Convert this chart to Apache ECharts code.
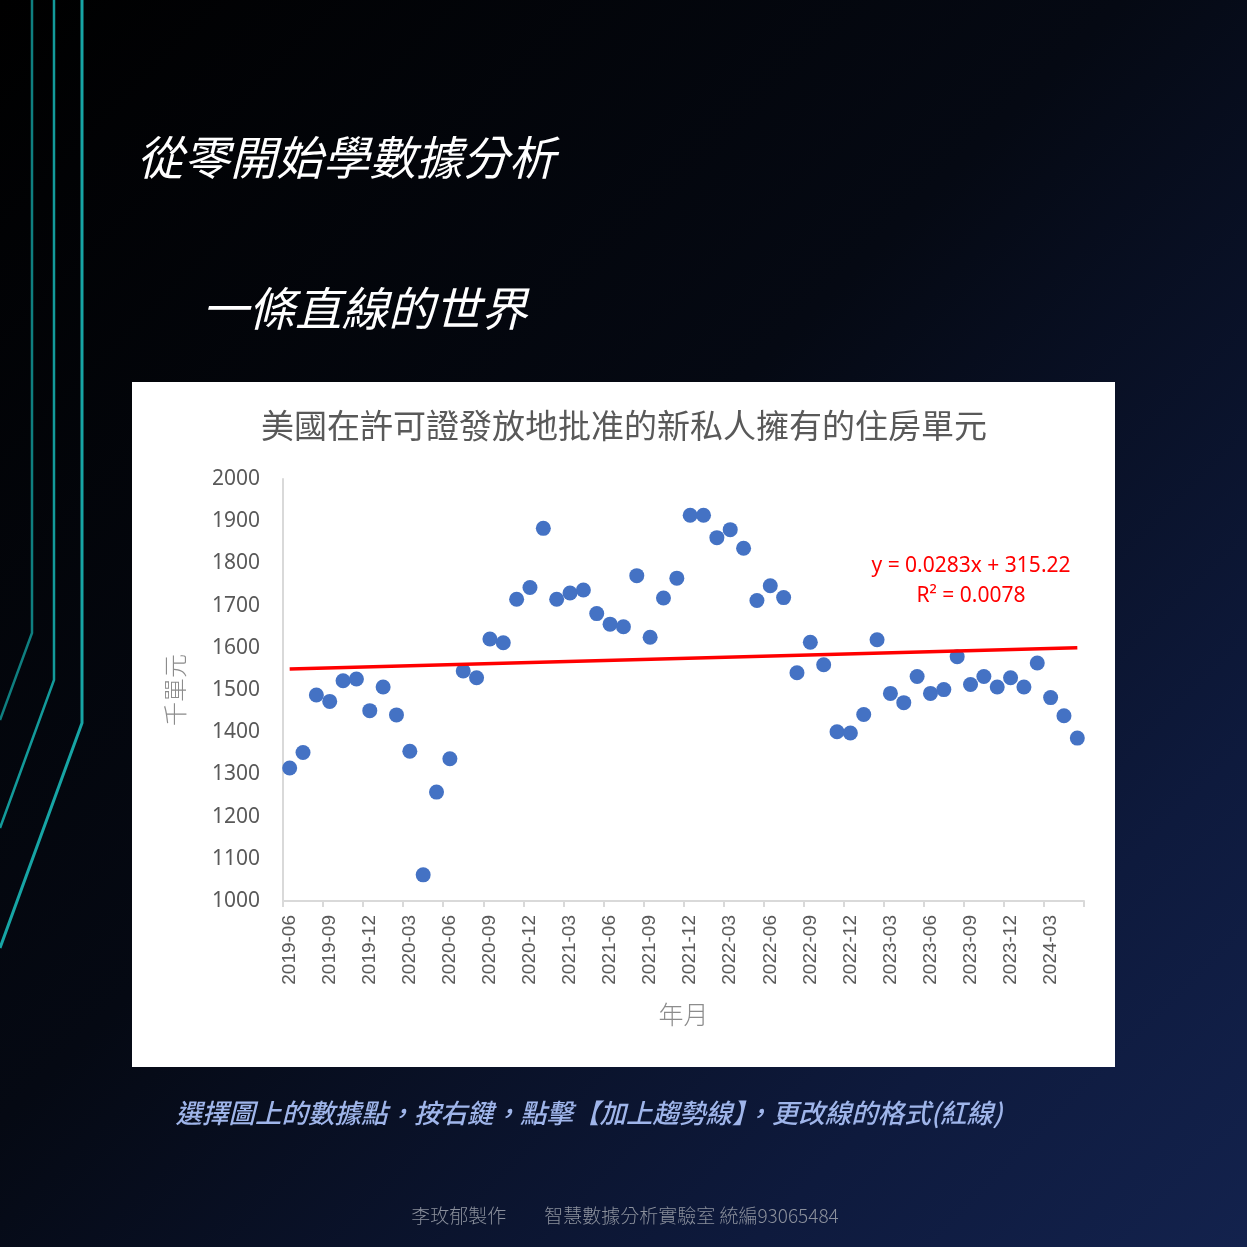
<!DOCTYPE html>
<html>
<head>
<meta charset="utf-8">
<script src="https://cdn.jsdelivr.net/npm/echarts@6/dist/echarts.min.js"></script>
<style>
html, body { margin:0; padding:0; width:1247px; height:1247px; overflow:hidden;
  background: linear-gradient(135deg, #000000 0%, #050913 45%, #0e1a3d 80%, #13224d 100%); }
#chart { width:1247px; height:1247px; }
</style>
</head>
<body>
<div id="chart"></div>
<script>
// ---- data ----
const months = [
  '2019-06','2019-07','2019-08','2019-09','2019-10','2019-11','2019-12',
  '2020-01','2020-02','2020-03','2020-04','2020-05','2020-06','2020-07','2020-08','2020-09','2020-10','2020-11','2020-12',
  '2021-01','2021-02','2021-03','2021-04','2021-05','2021-06','2021-07','2021-08','2021-09','2021-10','2021-11','2021-12',
  '2022-01','2022-02','2022-03','2022-04','2022-05','2022-06','2022-07','2022-08','2022-09','2022-10','2022-11','2022-12',
  '2023-01','2023-02','2023-03','2023-04','2023-05','2023-06','2023-07','2023-08','2023-09','2023-10','2023-11','2023-12',
  '2024-01','2024-02','2024-03','2024-04','2024-05'
];
const permits = [
  1315, 1352, 1488, 1473, 1522, 1526, 1451,
  1507, 1441, 1355, 1062, 1258, 1337, 1545, 1529, 1621, 1612, 1715, 1743,
  1883, 1715, 1730, 1737, 1681, 1656, 1650, 1771, 1625, 1718, 1765, 1914,
  1914, 1861, 1880, 1836, 1712, 1747, 1719, 1541, 1613, 1560, 1401, 1398,
  1442, 1619, 1492, 1470, 1532, 1492, 1501, 1579, 1513, 1532, 1507, 1529,
  1507, 1564, 1482, 1439, 1386
];
// Excel linear trendline (x = Excel date serial)
const trendSlope = 0.0283;
const trendIntercept = 315.22;
const equationLines = ['y = 0.0283x + 315.22', 'R² = 0.0078'];

const chartTitle = '美國在許可證發放地批准的新私人擁有的住房單元';
const slideTitle = '從零開始學數據分析';
const slideSubtitle = '一條直線的世界';
const noteText = '選擇圖上的數據點，按右鍵，點擊【加上趨勢線】，更改線的格式(紅線)';
const footerText = '李玫郁製作　　智慧數據分析實驗室 統編93065484';

// ---- helpers ----
function excelSerial(ym) {
  const [y, m] = ym.split('-').map(Number);
  return (Date.UTC(y, m - 1, 1) - Date.UTC(1899, 11, 30)) / 86400000;
}
const trendData = [months[0], months[months.length - 1]].map(
  m => [m, trendSlope * excelSerial(m) + trendIntercept]
);

const chart = echarts.init(document.getElementById('chart'), null, { renderer: 'canvas' });
const teal = '#139a9a';
const option = {
  backgroundColor: 'transparent',
  animation: false,
  grid: { left: 283, right: 163, top: 479, bottom: 346, containLabel: false },
  xAxis: {
    type: 'category',
    data: months,
    boundaryGap: true,
    axisLine: { show: true, lineStyle: { color: '#d9d9d9', width: 2 } },
    axisTick: { show: true, interval: 2, length: 6, lineStyle: { color: '#d9d9d9', width: 2 } },
    axisLabel: { interval: 2, rotate: 90, fontSize: 19, color: '#595959', margin: 14,
      fontFamily: 'Liberation Sans' },
    splitLine: { show: false },
    name: '年月', nameLocation: 'middle', nameGap: 101,
    nameTextStyle: { fontSize: 25, color: '#8c8c8c', fontFamily: 'Noto Sans CJK TC', fontWeight: 300 }
  },
  yAxis: {
    type: 'value', min: 1000, max: 2000, interval: 100,
    axisLine: { show: true, lineStyle: { color: '#d9d9d9', width: 2 } },
    axisTick: { show: false },
    splitLine: { show: false },
    axisLabel: { fontSize: 21, color: '#595959', margin: 23, fontFamily: 'Noto Sans',
      formatter: v => String(v) },
    name: '千單元', nameLocation: 'middle', nameGap: 96, nameRotate: 90,
    nameTextStyle: { fontSize: 24, color: '#8c8c8c', fontFamily: 'Noto Sans CJK TC', fontWeight: 300 }
  },
  series: [
    {
      type: 'scatter', data: permits, symbol: 'circle', symbolSize: 15,
      itemStyle: { color: '#4472c4', opacity: 1 }, z: 2
    },
    {
      type: 'line', data: trendData, symbol: 'none', z: 3,
      lineStyle: { color: '#ff0000', width: 3.5 }
    }
  ],
  graphic: [
    { type: 'rect', z: -10, shape: { x: 132, y: 382, width: 983, height: 685 },
      style: { fill: '#ffffff' } },
    { type: 'polyline', shape: { points: [[32, 0], [32, 633], [0, 720]] },
      style: { stroke: '#0f7f80', lineWidth: 2.5, fill: null } },
    { type: 'polyline', shape: { points: [[54, 0], [54, 680], [0, 828]] },
      style: { stroke: teal, lineWidth: 2.5, fill: null } },
    { type: 'polyline', shape: { points: [[82, 0], [82, 723], [0, 948]] },
      style: { stroke: '#17a5a5', lineWidth: 3, fill: null } },
    { type: 'text', style: { text: slideTitle, x: 137, y: 157, textAlign: 'left', textVerticalAlign: 'middle',
      fill: '#ffffff', font: 'italic 400 46.5px "Noto Sans CJK TC"' } },
    { type: 'text', style: { text: slideSubtitle, x: 202, y: 308, textAlign: 'left', textVerticalAlign: 'middle',
      fill: '#ffffff', font: 'italic 400 46.5px "Noto Sans CJK TC"' } },
    { type: 'text', style: { text: chartTitle, x: 624, y: 425, textAlign: 'center', textVerticalAlign: 'middle',
      fill: '#595959', font: '400 33px "Noto Sans CJK TC"' } },
    { type: 'text', style: { text: equationLines[0], x: 971, y: 566, textAlign: 'center', textVerticalAlign: 'middle',
      fill: '#ff0000', font: '21px "Noto Sans"' } },
    { type: 'text', style: { text: equationLines[1], x: 971, y: 596, textAlign: 'center', textVerticalAlign: 'middle',
      fill: '#ff0000', font: '21px "Noto Sans"' } },
    { type: 'text', style: { text: noteText, x: 589, y: 1113, textAlign: 'center', textVerticalAlign: 'middle',
      fill: '#9fb5ea', font: 'italic 500 26.5px "Noto Sans CJK TC"' } },
    { type: 'text', style: { text: footerText, x: 625, y: 1216, textAlign: 'center', textVerticalAlign: 'middle',
      fill: '#8b909c', font: '300 19px "Noto Sans CJK TC"' } }
  ]
};
chart.setOption(option);
</script>
</body>
</html>
